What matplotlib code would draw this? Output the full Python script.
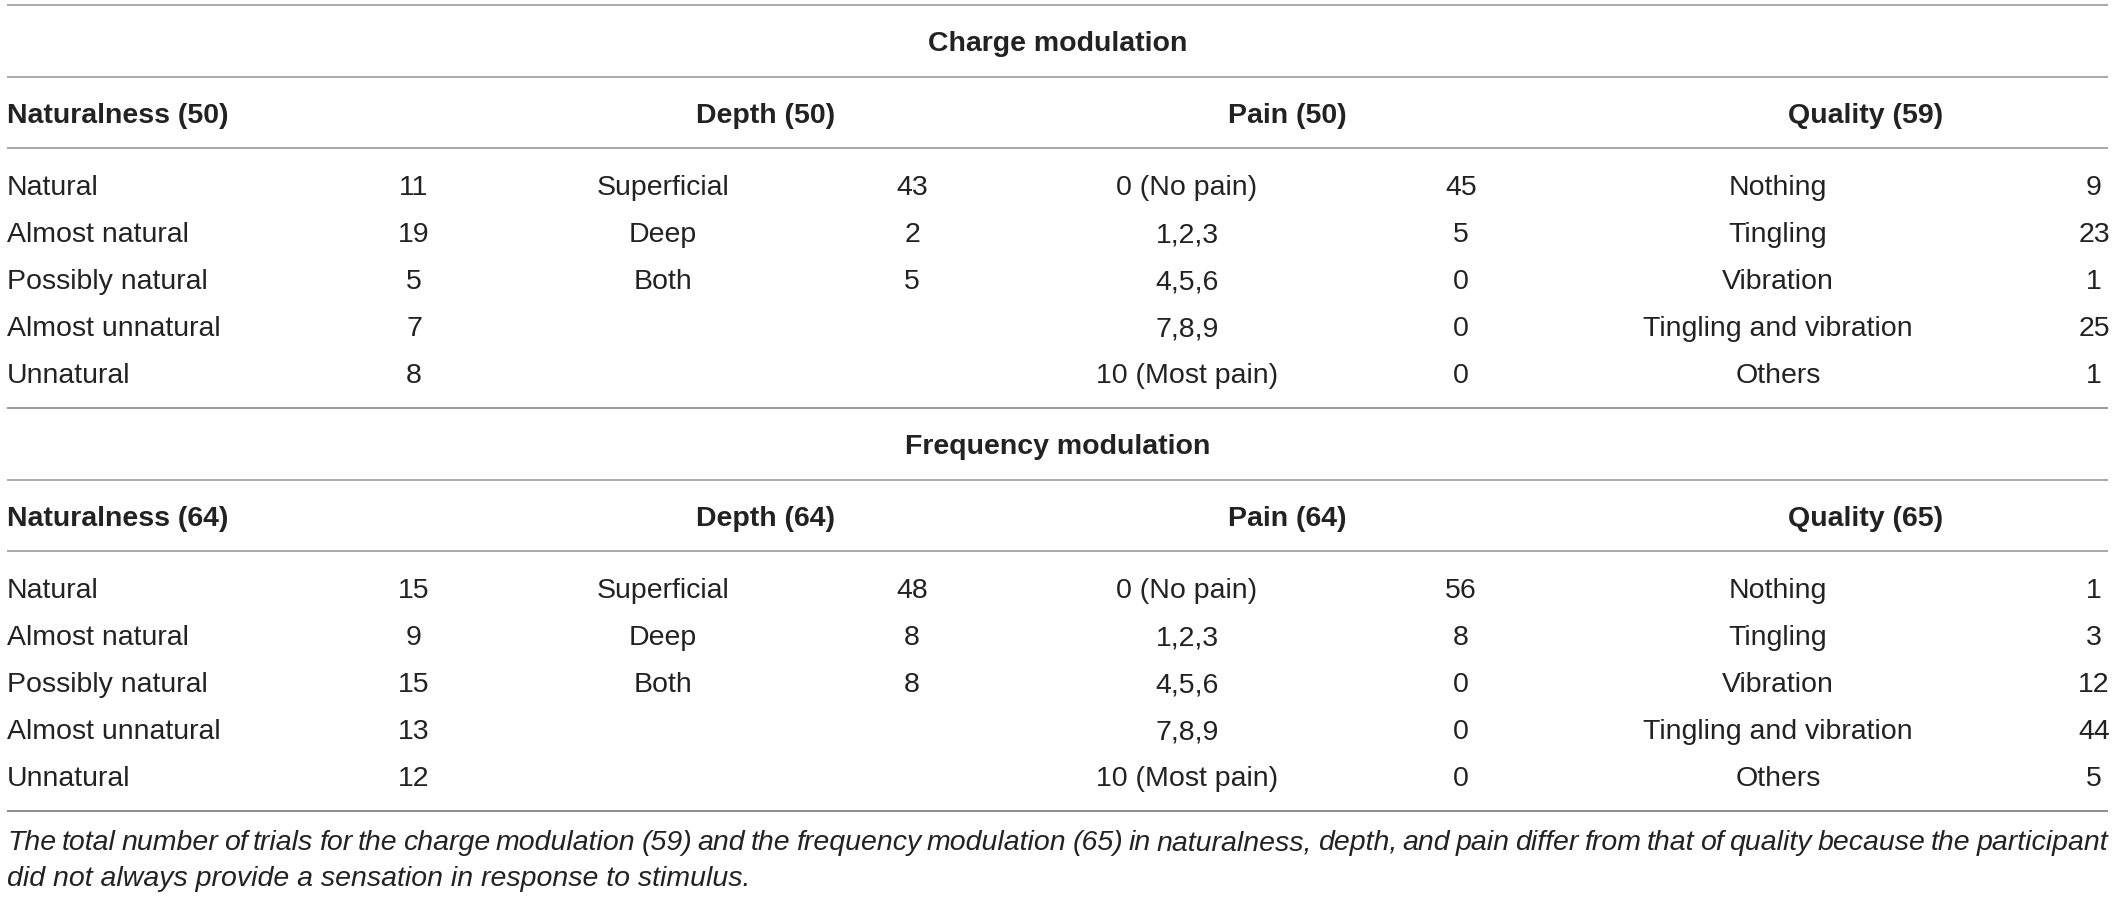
import matplotlib
matplotlib.use('Agg')
import matplotlib.pyplot as plt

plt.rcParams['font.family'] = ['Liberation Sans', 'DejaVu Sans']

# Daten der Tabelle
block_titles = ['Charge modulation', 'Frequency modulation']
headers = [
    ['Naturalness (50)', 'Depth (50)', 'Pain (50)', 'Quality (59)'],
    ['Naturalness (64)', 'Depth (64)', 'Pain (64)', 'Quality (65)'],
]
naturalness_labels = ['Natural', 'Almost natural', 'Possibly natural', 'Almost unnatural', 'Unnatural']
depth_labels = ['Superficial', 'Deep', 'Both']
pain_labels = ['0 (No pain)', '1,2,3', '4,5,6', '7,8,9', '10 (Most pain)']
quality_labels = ['Nothing', 'Tingling', 'Vibration', 'Tingling and vibration', 'Others']

naturalness_counts = [[11, 19, 5, 7, 8], [15, 9, 15, 13, 12]]
depth_counts = [[43, 2, 5], [48, 8, 8]]
pain_counts = [[45, 5, 0, 0, 0], [56, 8, 0, 0, 0]]
quality_counts = [[9, 23, 1, 25, 1], [1, 3, 12, 44, 5]]

footnote = ('The total number of trials for the charge modulation (59) and the frequency modulation (65) '
            'in naturalness, depth, and pain differ from that of quality because the participant',
            'did not always provide a sensation in response to stimulus.')

W, H = 2118, 897
fig = plt.figure(figsize=(W / 100, H / 100), dpi=100)
ax = fig.add_axes([0, 0, 1, 1])
ax.set_xlim(0, W)
ax.set_ylim(H, 0)
ax.axis('off')

fs = 20.5  # pt
px = fs * 100 / 72
off = 0.36 * px  # Versatz Mitte -> Grundlinie
txt = '#222222'
x0, x1 = 7, 2108

# Spaltenpositionen
head_x = [(x0, 'left'), (766, 'center'), (1287, 'center'), (1866, 'center')]
label_x = [(x0, 'left'), (663, 'center'), (1187, 'center'), (1778, 'center')]
count_x = [414, 912, 1461, 2094]


def hline(y, color='#9a9a9a'):
    ax.plot([x0, x1], [y, y], color=color, lw=1.2, solid_capstyle='butt')


def put(x, y, s, ha='left', weight='normal', style='normal'):
    return ax.text(x, y + off, s, ha=ha, va='baseline', fontsize=fs,
                   color=txt, fontweight=weight, fontstyle=style)


block_top = [5, 408]
for b in range(2):
    t = block_top[b]
    hline(t, '#9a9a9a' if b == 0 else '#888888')
    put((x0 + x1) / 2, t + 36, block_titles[b], ha='center', weight='bold')
    hline(t + 72)
    for (hx, ha), h in zip(head_x, headers[b]):
        put(hx, t + 108, h, ha=ha, weight='bold')
    hline(t + 143)
    cols = [(naturalness_labels, naturalness_counts[b]),
            (depth_labels, depth_counts[b]),
            (pain_labels, pain_counts[b]),
            (quality_labels, quality_counts[b])]
    for c, (labels, counts) in enumerate(cols):
        lx, lha = label_x[c]
        for i, (lab, n) in enumerate(zip(labels, counts)):
            y = t + 180 + i * 47
            put(lx, y, lab, ha=lha)
            put(count_x[c], y, str(n), ha='center')

hline(811, '#777777')

# Fußnote, erste Zeile im Blocksatz
fig.canvas.draw()
renderer = fig.canvas.get_renderer()
words = footnote[0].split(' ')
objs = [put(0, 840, w, style='italic') for w in words]
widths = []
for o in objs:
    bb = o.get_window_extent(renderer)
    widths.append(bb.width)
gap = (x1 - x0 - sum(widths)) / (len(words) - 1)
pos = x0
for o, w in zip(objs, widths):
    o.set_x(pos)
    pos += w + gap
put(x0, 876, footnote[1], style='italic')

fig.savefig('out.png', dpi=100)
